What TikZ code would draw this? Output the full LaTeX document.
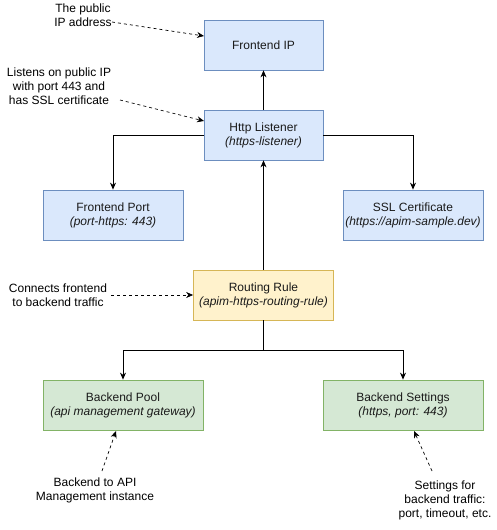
\documentclass[tikz,border=0pt]{standalone}
\usepackage{fontspec}
\setmainfont{Liberation Sans}
\usetikzlibrary{arrows.meta}
\definecolor{bluef}{HTML}{DAE8FC}\definecolor{blued}{HTML}{6C8EBF}
\definecolor{yelf}{HTML}{FFF2CC}\definecolor{yeld}{HTML}{D6B656}
\definecolor{grnf}{HTML}{D5E8D4}\definecolor{grnd}{HTML}{82B366}
\definecolor{txt}{HTML}{1A1A1A}
\tikzset{
  box/.style={draw, line width=0.8pt, minimum height=50pt, align=center, text=txt,
    font=\fontsize{12}{14}\selectfont, inner sep=0pt},
  bluebox/.style={box, fill=bluef, draw=blued},
  yelbox/.style={box, fill=yelf, draw=yeld},
  grnbox/.style={box, fill=grnf, draw=grnd},
  note/.style={align=center, font=\fontsize{12}{14}\selectfont, inner sep=0pt},
  arr/.style={line width=0.8pt, -{Stealth[length=7pt,width=6pt]}},
  darr/.style={line width=0.7pt, dashed, dash pattern=on 3pt off 3pt, -{Stealth[length=7pt,width=6pt]}},
}
\begin{document}
\begin{tikzpicture}[x=1pt,y=-1pt]
\useasboundingbox (0,0) rectangle (497,530);
\node[bluebox, minimum width=119pt] (fip) at (263.5,45) {Frontend IP};
\node[bluebox, minimum width=119pt] (hl) at (263.5,135) {Http Listener\\\textit{(https-listener)}};
\node[bluebox, minimum width=140pt] (fp) at (113,215) {Frontend Port\\\textit{(port-https: 443)}};
\node[bluebox, minimum width=140pt] (ssl) at (413,215) {SSL Certificate\\\textit{(https://apim-sample.dev)}};
\node[yelbox, minimum width=140pt] (rr) at (263.5,295) {Routing Rule\\\textit{(apim-https-routing-rule)}};
\node[grnbox, minimum width=160pt] (bp) at (123,405) {Backend Pool\\\textit{(api management gateway)}};
\node[grnbox, minimum width=160pt] (bs) at (403,405) {Backend Settings\\\textit{(https, port: 443)}};

\draw[arr] (hl.north) -- (fip.south);
\draw[arr] (hl.west) -| (fp.north);
\draw[arr] (hl.east) -| (ssl.north);
\draw[arr] (rr.north) -- (hl.south);
\draw[arr] (rr.south) -- ++(0,30) coordinate (split) -| (bp.north);
\draw[arr] (split) -| (bs.north);

\node[note] (n1) at (83,15) {The public\\IP address};
\node[note] (n2) at (59,86) {Listens on public IP\\with port 443 and\\has SSL certificate};
\node[note] (n3) at (58,295) {Connects frontend\\to backend traffic};
\node[note] (n4) at (95,490) {Backend to API\\Management instance};
\node[note] (n5) at (445,500) {Settings for\\backend traffic:\\port, timeout, etc.};

\coordinate (s1) at (112,22);
\coordinate (t1) at (204,36);
\coordinate (s2) at (120,100);
\coordinate (t2) at (204,121);
\coordinate (t4) at (116,431);
\coordinate (s4) at (102,471);
\coordinate (t5) at (414,431);
\coordinate (s5) at (432,471);
\draw[darr] (s1) -- (t1);
\draw[darr] (s2) -- (t2);
\draw[darr] (n3.east) ++(4,0) -- (rr.west);
\draw[darr] (s4) -- (t4);
\draw[darr] (s5) -- (t5);
\end{tikzpicture}
\end{document}
